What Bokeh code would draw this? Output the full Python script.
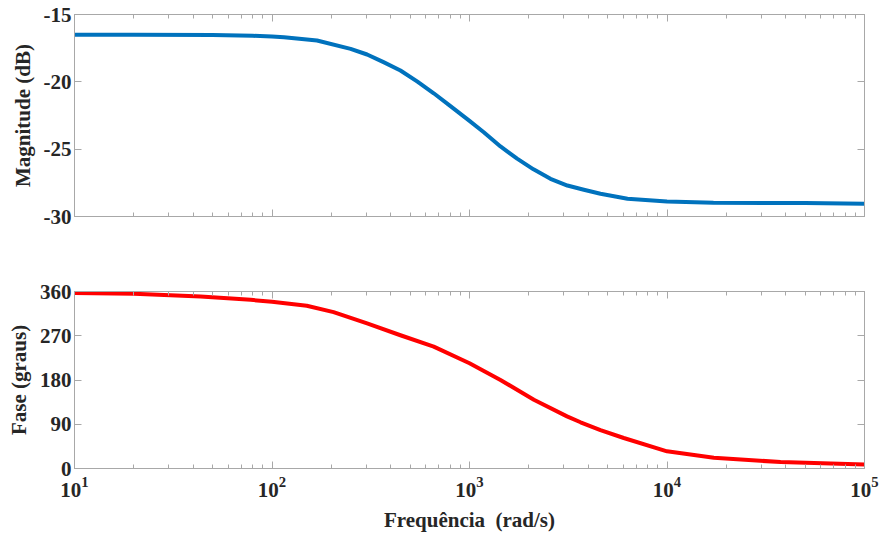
from bokeh.plotting import figure
from bokeh.layouts import column
from bokeh.models import FixedTicker, LogAxis, LinearAxis, Range1d
from bokeh.embed import file_html
from bokeh.resources import INLINE

# Magnitude data (rad/s, dB)
mag_freq = [10, 20, 50, 80, 100, 115, 169, 250, 303, 367, 447, 545, 659, 801,
            1000, 1181, 1435, 1742, 2109, 2570, 3131, 3792, 4604, 6310, 10000,
            17180, 50000, 100000]
mag_db = [-16.5, -16.5, -16.52, -16.58, -16.63, -16.69, -16.93, -17.55, -17.97,
          -18.54, -19.16, -19.98, -20.85, -21.8, -22.9, -23.74, -24.8, -25.7,
          -26.5, -27.2, -27.7, -28.01, -28.31, -28.68, -28.88, -28.98, -29.0,
          -29.05]

# Phase data (rad/s, degrees)
ph_freq = [10, 20, 43.5, 78, 100, 150, 205, 303, 447, 659, 1000, 1435, 2118,
           3117, 3650, 4604, 6040, 10000, 17270, 37600, 100000]
ph_deg = [357, 355.5, 350, 343, 339, 331, 318, 295, 271, 248, 214, 180, 140,
          106, 94, 78, 62, 35, 22, 13, 8]

x_major = [10, 100, 1000, 10000, 100000]
x_minor = [m * d for d in [10, 100, 1000, 10000] for m in range(2, 10)]
mag_ticks = [-30, -25, -20, -15]
mag_tick_labels = ["-30", "-25", "-20", "-15"]
ph_ticks = [0, 90, 180, 270, 360]
ph_tick_labels = ["0", "90", "180", "270", "360"]

FONT = "Liberation Serif"
GRAY = "#a8a8a8"
TXT = "#262626"


def style_axis(ax, labels=True):
    ax.axis_line_color = GRAY
    ax.major_tick_line_color = GRAY
    ax.minor_tick_line_color = GRAY
    ax.major_tick_in = 7
    ax.major_tick_out = 0
    ax.minor_tick_in = 4
    ax.minor_tick_out = 0
    ax.major_label_text_font = FONT
    ax.major_label_text_font_style = "bold"
    ax.major_label_text_font_size = "21px"
    ax.major_label_text_color = TXT
    ax.axis_label_text_font = FONT
    ax.axis_label_text_font_style = "bold"
    ax.axis_label_text_font_size = "21px"
    ax.axis_label_text_color = TXT
    if not labels:
        ax.major_label_text_font_size = "0px"
        ax.major_label_text_alpha = 0


def make_fig(height, top, bottom, yr, yticks, ylabels, ylabel, xs, ys, color,
             show_x):
    p = figure(width=882, height=height, x_axis_type="log",
               x_range=Range1d(10, 100000), y_range=yr,
               output_backend="svg", toolbar_location=None,
               min_border_left=74, min_border_right=18,
               min_border_top=top, min_border_bottom=bottom,
               x_axis_location=None, y_axis_location=None)
    p.outline_line_color = GRAY
    p.xgrid.visible = False
    p.ygrid.visible = False
    xt = FixedTicker(ticks=x_major, minor_ticks=x_minor)
    yt = FixedTicker(ticks=yticks, minor_ticks=[])
    bx = LogAxis(ticker=xt)
    style_axis(bx, labels=show_x)
    if show_x:
        bx.axis_label = "Frequência\u00a0 (rad/s)"
        bx.major_label_standoff = 8
        bx.axis_label_standoff = 8
    p.add_layout(bx, "below")
    tx = LogAxis(ticker=xt)
    style_axis(tx, labels=False)
    p.add_layout(tx, "above")
    ly = LinearAxis(ticker=yt, axis_label=ylabel)
    style_axis(ly)
    ly.major_label_overrides = {t: s for t, s in zip(yticks, ylabels)}
    ly.major_label_standoff = 3
    ly.axis_label_standoff = 6
    p.add_layout(ly, "left")
    ry = LinearAxis(ticker=yt)
    style_axis(ry, labels=False)
    p.add_layout(ry, "right")
    p.line(xs, ys, line_color=color, line_width=4, line_join="round")
    return p


p1 = make_fig(250, 14, 34, Range1d(-30, -15), mag_ticks, mag_tick_labels,
              "Magnitude (dB)", mag_freq, mag_db, "#0072BD", False)
p2 = make_fig(284, 41, 65, Range1d(0, 360), ph_ticks, ph_tick_labels,
              "Fase (graus)", ph_freq, ph_deg, "#FF0000", True)

layout = column(p1, p2, spacing=0)
open("out.html", "w").write(file_html(layout, INLINE))
